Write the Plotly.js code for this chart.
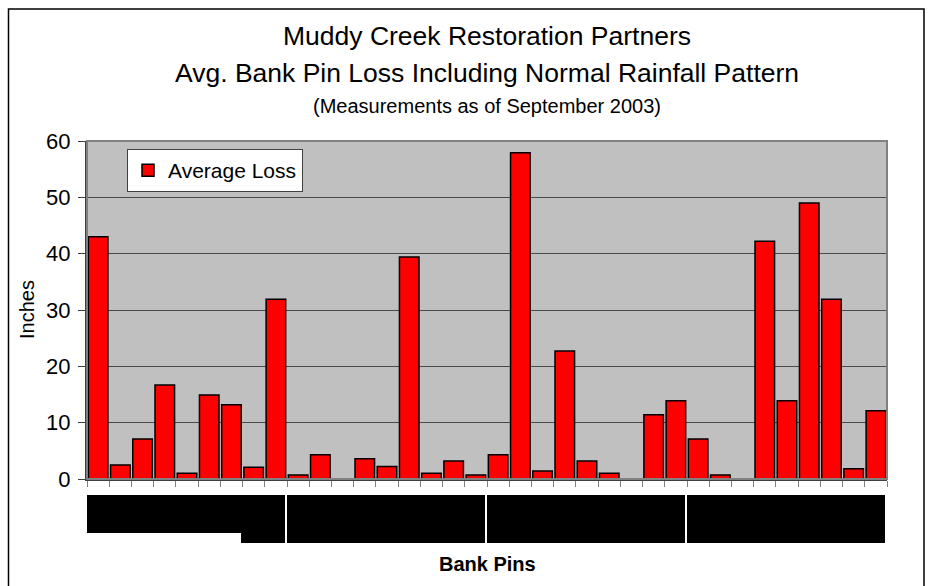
<!DOCTYPE html>
<html>
<head>
<meta charset="utf-8">
<script src="https://cdn.plot.ly/plotly-3.0.1.min.js"></script>
<style>html,body{margin:0;padding:0;background:#fff;}#chart{width:928px;height:586px;}</style>
</head>
<body>
<div id="chart"></div>
<script>
// Bank pin identifiers (actual labels are hidden behind black boxes in the original)
const pins = ["1","2","3","4","5","6","7","8","9","10","11","12",
              "13","14","15","16","17","18","19","20","21","22","23","24",
              "25","26","27","28","29","30","31","32","33","34","35","36"];
// Average loss in inches (null = no measurement)
const averageLoss = [43.0, 2.5, 7.1, 16.7, 1.0, 14.9, 13.2, 2.1, 31.9, 0.7, 4.3, null,
                     3.6, 2.2, 39.4, 1.0, 3.2, 0.7, 4.3, 57.9, 1.4, 22.7, 3.2, 1.0,
                     null, 11.4, 13.9, 7.1, 0.7, null, 42.2, 13.9, 49.0, 31.9, 1.8, 12.1];
const yTicks = [0, 10, 20, 30, 40, 50, 60];

const FONT = '"Liberation Sans", Arial, sans-serif';

const trace = {
  type: 'bar',
  x: pins,
  y: averageLoss,
  name: 'Average Loss',
  marker: {color: '#FF0000', line: {color: '#000000', width: 1.5}},
  hoverinfo: 'x+y'
};

// pixel helpers for the plot area (x 87..887, y 141..479)
const px = v => (v - 87) / 800;
const py = v => (479 - v) / 338;

const blockY0 = py(495), blockY1 = py(543), blockYmid = py(533);
const shapes = [
  // outer chart frame
  {type:'rect', xref:'paper', yref:'paper', x0:px(8.5), x1:px(924), y0:py(9), y1:py(592),
   line:{color:'#000', width:1.5}, fillcolor:'rgba(0,0,0,0)', layer:'below'},
  // plot area border (gray)
  {type:'rect', xref:'paper', yref:'paper', x0:0, x1:1, y0:0, y1:1,
   line:{color:'#808080', width:2}, fillcolor:'rgba(0,0,0,0)', layer:'above'},
  // black label blocks
  {type:'rect', xref:'paper', yref:'paper', x0:px(87), x1:px(285), y0:blockYmid, y1:blockY0,
   line:{width:0}, fillcolor:'#000'},
  {type:'rect', xref:'paper', yref:'paper', x0:px(241), x1:px(285), y0:blockY1, y1:blockYmid,
   line:{width:0}, fillcolor:'#000'},
  {type:'rect', xref:'paper', yref:'paper', x0:px(287), x1:px(485), y0:blockY1, y1:blockY0,
   line:{width:0}, fillcolor:'#000'},
  {type:'rect', xref:'paper', yref:'paper', x0:px(487), x1:px(685), y0:blockY1, y1:blockY0,
   line:{width:0}, fillcolor:'#000'},
  {type:'rect', xref:'paper', yref:'paper', x0:px(687), x1:px(885), y0:blockY1, y1:blockY0,
   line:{width:0}, fillcolor:'#000'}
];

const annotations = [
  {text:'Muddy Creek Restoration Partners', xref:'paper', yref:'paper', x:0.5, y:py(35.5),
   xanchor:'center', yanchor:'middle', showarrow:false, font:{family:FONT, size:26.5, color:'#000'}},
  {text:'Avg. Bank Pin Loss Including Normal Rainfall Pattern', xref:'paper', yref:'paper', x:0.5, y:py(72.5),
   xanchor:'center', yanchor:'middle', showarrow:false, font:{family:FONT, size:26.5, color:'#000'}},
  {text:'(Measurements as of September 2003)', xref:'paper', yref:'paper', x:0.5, y:py(106),
   xanchor:'center', yanchor:'middle', showarrow:false, font:{family:FONT, size:20, color:'#000'}},
  {text:'Inches', xref:'paper', yref:'paper', x:px(27), y:0.5, textangle:-90,
   xanchor:'center', yanchor:'middle', showarrow:false, font:{family:FONT, size:20, color:'#000'}},
  {text:'<b>Bank Pins</b>', xref:'paper', yref:'paper', x:0.5, y:py(564),
   xanchor:'center', yanchor:'middle', showarrow:false, font:{family:FONT, size:20, color:'#000'}}
];

const layout = {
  width: 928, height: 586,
  margin: {l:87, r:41, t:141, b:107, pad:0},
  paper_bgcolor: '#FFFFFF',
  plot_bgcolor: '#C0C0C0',
  font: {family: FONT, color:'#000'},
  bargap: 0.12,
  showlegend: true,
  legend: {x: px(127), y: py(149), xanchor:'left', yanchor:'top',
           bgcolor:'#FFFFFF', bordercolor:'#404040', borderwidth:1,
           font:{family:FONT, size:21, color:'#000'}},
  xaxis: {
    type:'category', showticklabels:false, tickson:'boundaries',
    ticks:'outside', ticklen:6, tickcolor:'#808080', tickwidth:1,
    showgrid:false, showline:true, linecolor:'#404040', linewidth:2,
    fixedrange:true, zeroline:false
  },
  yaxis: {
    range:[0,60], tickvals:yTicks, ticktext:yTicks.map(String),
    ticks:'outside', ticklen:7, tickcolor:'#404040', tickwidth:1,
    ticklabelstandoff:3,
    tickfont:{family:FONT, size:22, color:'#000'},
    showgrid:true, gridcolor:'#4a4a4a', gridwidth:1,
    showline:true, linecolor:'#404040', linewidth:2,
    zeroline:false, fixedrange:true
  },
  shapes: shapes,
  annotations: annotations
};

Plotly.newPlot('chart', [trace], layout, {displayModeBar:false, staticPlot:true});
</script>
</body>
</html>
